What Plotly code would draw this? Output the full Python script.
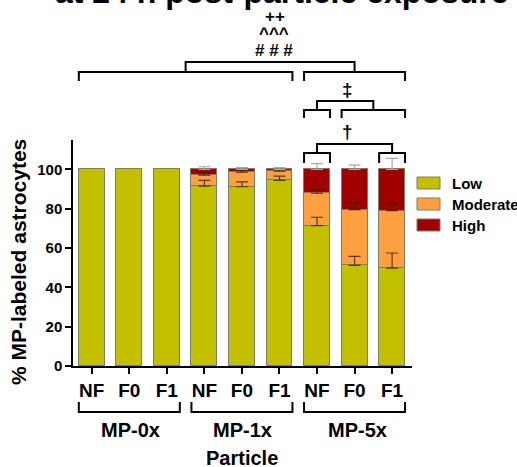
import plotly.graph_objects as go

# ---------------- data ----------------
categories = ["NF", "F0", "F1", "NF", "F0", "F1", "NF", "F0", "F1"]
groups = ["MP-0x", "MP-1x", "MP-5x"]
series_names = ["Low", "Moderate", "High"]
low = [100, 100, 100, 91.5, 91.2, 94.5, 71.4, 51.2, 49.8]
moderate = [0, 0, 0, 5.6, 7.4, 4.6, 16.5, 28.4, 29.3]
high = [0, 0, 0, 2.9, 1.4, 0.9, 12.1, 20.4, 20.9]
low_err = [0, 0, 0, 3.0, 2.5, 2.1, 4.3, 4.6, 7.7]
moderate_err = [0, 0, 0, 1.5, 1.0, 0.8, 1.9, 3.4, 3.4]
high_err = [0, 0, 0, 1.4, 0.9, 0.9, 3.0, 2.2, 5.6]
y_ticks = [0, 20, 40, 60, 80, 100]
x_title = "Particle"
y_title = "% MP-labeled astrocytes"
title_text = "at 24 h post-particle exposure"
sig_top = ["++", "^^^", "# # #"]
sig_dd = "‡"
sig_d = "†"

# ---------------- style ----------------
FONT = "Arial, Liberation Sans, sans-serif"
COLORS = ["#c2c000", "#ffa040", "#a00000"]
EDGE = "#7d7d6a"
W, H = 517, 467
ML, MR, MT, MB = 73, 105, 140, 101
XR = [-0.5, 8.53]
YR = [0, 115]
PW, PH = W - ML - MR, H - MT - MB
BW = 0.69

idx = list(range(len(categories)))


def px2x(px):
    return (px - ML) / PW


def py2y(py):
    return (H - MB - py) / PH


def dx2x(d):
    return (d - XR[0]) / (XR[1] - XR[0])


fig = go.Figure()
for name, vals, col in zip(series_names, [low, moderate, high], COLORS):
    fig.add_trace(go.Bar(
        x=idx, y=vals, name=name, width=BW, showlegend=False,
        marker=dict(color=col, line=dict(color=EDGE, width=1)),
    ))

# error bars (one-sided, upward) at the top of each stacked segment
cum = [0] * len(idx)
for vals, errs, ecol in [(low, low_err, "rgba(70,50,20,0.9)"),
                         (moderate, moderate_err, "rgba(70,30,10,0.9)"),
                         (high, high_err, "#a8a8a8")]:
    cum = [c + v for c, v in zip(cum, vals)]
    ys = [c if e > 0 else None for c, e in zip(cum, errs)]
    fig.add_trace(go.Scatter(
        x=idx, y=ys, mode="markers", marker=dict(size=1, opacity=0),
        showlegend=False, hoverinfo="skip",
        error_y=dict(type="data", symmetric=False, array=errs,
                     arrayminus=[0] * len(errs), color=ecol, thickness=1.2, width=6),
    ))

shapes = []


def bracket(d0, d1, py_h, py_leg, width=2):
    x0, x1 = dx2x(d0), dx2x(d1)
    yh, yl = py2y(py_h), py2y(py_leg)
    shapes.append(dict(type="path", xref="paper", yref="paper",
                       path=f"M {x0},{yl} L {x0},{yh} L {x1},{yh} L {x1},{yl}",
                       line=dict(color="black", width=width)))


h = BW / 2
# top comparison
bracket(0 - h, 5 + h, 72, 81)
bracket(6 - h, 8 + h, 72, 81)
bracket(2.5, 7.0, 62, 72)
# double dagger
bracket(6 - h, 6 + h, 110, 118)
bracket(7 - h, 8 + h, 110, 118)
bracket(6.0, 7.5, 101, 110)
# dagger
bracket(6 - h, 6 + h, 153, 163)
bracket(8 - h, 8 + h, 153, 163)
bracket(6.0, 8.0, 144, 153)
# group brackets under axis
for g in range(3):
    bracket(3 * g - h, 3 * g + 2 + h, 412, 402)

ann = []


def text(t, px, py, size, angle=0, anchor="middle", xanchor="center"):
    ann.append(dict(text=t, x=px2x(px), y=py2y(py), xref="paper", yref="paper",
                    showarrow=False, textangle=angle, xanchor=xanchor, yanchor=anchor,
                    font=dict(family=FONT, size=size, color="black", weight="bold")))


text(title_text, 281, 12, 32, anchor="bottom")
text(sig_top[0], 275, 16, 17)
text(sig_top[1], 274, 34, 17)
text(sig_top[2], 274, 51, 17)
text(sig_dd, 347, 89, 19)
text(sig_d, 347, 131, 19)
for g, name in enumerate(groups):
    text(name, [130, 242, 357][g], 430, 20)
text(x_title, 242, 458, 20)
text(y_title, 18, 262, 21, angle=-90)

# legend (wide swatches as in the reference)
for i, (name, col) in enumerate(zip(series_names, COLORS)):
    cy = 183 + 21 * i
    shapes.append(dict(type="rect", xref="paper", yref="paper",
                       x0=px2x(417), x1=px2x(440), y0=py2y(cy + 6), y1=py2y(cy - 6),
                       fillcolor=col, line=dict(color=EDGE, width=1)))
    text(name, 450, cy, 15, xanchor="left")

fig.update_layout(
    width=W, height=H,
    margin=dict(l=ML, r=MR, t=MT, b=MB, autoexpand=False),
    paper_bgcolor="white", plot_bgcolor="white",
    barmode="stack", bargap=0,
    shapes=shapes, annotations=ann,
    showlegend=False,
    xaxis=dict(range=XR, tickvals=idx, ticktext=categories, showline=True,
               linecolor="black", linewidth=1.5, ticks="outside", ticklen=6,
               tickwidth=1.5, tickcolor="black", showgrid=False, zeroline=False,
               tickfont=dict(family=FONT, size=19, color="black", weight="bold")),
    yaxis=dict(range=YR, tickvals=y_ticks, showline=True, linecolor="black",
               linewidth=1.5, ticks="outside", ticklen=6, tickwidth=1.5,
               tickcolor="black", showgrid=False, zeroline=False,
               tickfont=dict(family=FONT, size=15, color="black", weight="bold")),
)

fig.write_html("out.html", config={"displayModeBar": False},
               post_script="document.body.style.margin='0px';document.body.style.overflow='hidden';")
